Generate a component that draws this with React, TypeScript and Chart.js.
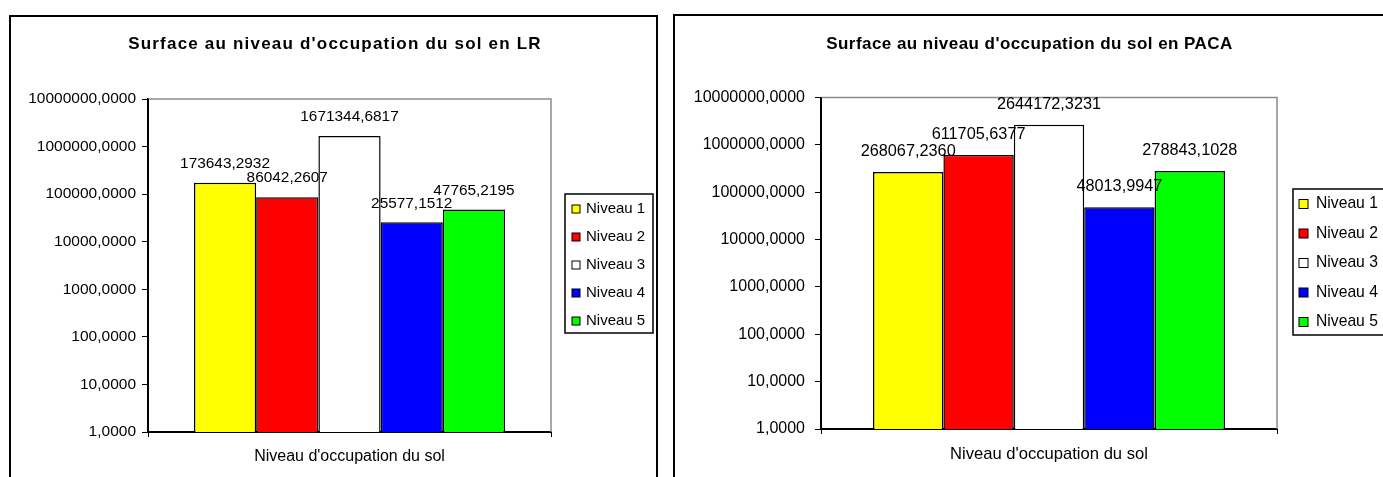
import React, { useEffect, useRef } from "react";
import { Chart, registerables } from "chart.js";

Chart.register(...registerables);

// ---------- data ----------
const CATEGORIES = ["Niveau d'occupation du sol"];
const SERIES_NAMES = ["Niveau 1", "Niveau 2", "Niveau 3", "Niveau 4", "Niveau 5"];
const SERIES_COLORS = ["#FFFF00", "#FF0000", "#FFFFFF", "#0000FF", "#00FF00"];
const LR_VALUES = [173643.2932, 86042.2607, 1671344.6817, 25577.1512, 47765.2195];
const PACA_VALUES = [268067.236, 611705.6377, 2644172.3231, 48013.9947, 278843.1028];
const Y_TICKS = [1, 10, 100, 1000, 10000, 100000, 1000000, 10000000];
const TITLE_LR = "Surface au niveau d'occupation du sol en LR";
const TITLE_PACA = "Surface au niveau d'occupation du sol en PACA";

const FONT = "'Liberation Sans', Arial, sans-serif";
const fmt = (v: number) => v.toFixed(4).replace(".", ",");

type Spec = {
  title: string;
  values: number[];
  box: { left: number; top: number; width: number; height: number };
  canvasW: number;
  canvasH: number;
  yAxisW: number;
  padTop: number;
  xAxisH: number;
  padRight: number;
  tickFont: number;
  tickPadY: number;
  catFont: number;
  tickPadX: number;
  labelFont: number;
  labelOffset: number;
  titleFont: number;
  titleSpacing: number;
  titleX: number;
  titleY: number;
  legend: { x: number; y: number; w: number; h: number; swX: number; sw: number; textX: number; y0: number; dy: number; font: number };
};

const LEFT: Spec = {
  title: TITLE_LR,
  values: LR_VALUES,
  box: { left: 9, top: 15, width: 649, height: 480 },
  canvasW: 645,
  canvasH: 460,
  yAxisW: 137,
  padTop: 82,
  xAxisH: 45,
  padRight: 105,
  tickFont: 15.5,
  tickPadY: 6,
  catFont: 16,
  tickPadX: 10,
  labelFont: 15.4,
  labelOffset: 19,
  titleFont: 17,
  titleSpacing: 1.2,
  titleX: 324,
  titleY: 27.5,
  legend: { x: 554, y: 177, w: 88, h: 139, swX: 561, sw: 8, textX: 575, y0: 192, dy: 28, font: 15 },
};

const RIGHT: Spec = {
  title: TITLE_PACA,
  values: PACA_VALUES,
  box: { left: 673, top: 14, width: 740, height: 480 },
  canvasW: 720,
  canvasH: 461,
  yAxisW: 146,
  padTop: 81.5,
  xAxisH: 48,
  padRight: 118,
  tickFont: 16,
  tickPadY: 10,
  catFont: 16.6,
  tickPadX: 10,
  labelFont: 16.3,
  labelOffset: 20.5,
  titleFont: 17,
  titleSpacing: 0.45,
  titleX: 354.5,
  titleY: 28,
  legend: { x: 618, y: 173, w: 120, h: 146, swX: 624, sw: 9, textX: 641, y0: 188, dy: 29.5, font: 15.7 },
};

function Panel({ spec }: { spec: Spec }) {
  const ref = useRef<HTMLCanvasElement | null>(null);

  useEffect(() => {
    if (!ref.current) return;
    const s = spec;

    const plotFrame = {
      id: "plotFrame",
      beforeDatasetsDraw(chart: any) {
        const { ctx, chartArea } = chart;
        ctx.save();
        ctx.strokeStyle = "#8c8c8c";
        ctx.lineWidth = 1.5;
        ctx.beginPath();
        ctx.moveTo(chartArea.left, chartArea.top);
        ctx.lineTo(chartArea.right, chartArea.top);
        ctx.lineTo(chartArea.right, chartArea.bottom);
        ctx.stroke();
        ctx.restore();
      },
    };

    const valueLabels = {
      id: "valueLabels",
      afterDatasetsDraw(chart: any) {
        const ctx = chart.ctx;
        ctx.save();
        ctx.font = `${s.labelFont}px ${FONT}`;
        ctx.fillStyle = "#000";
        ctx.textAlign = "center";
        ctx.textBaseline = "middle";
        chart.data.datasets.forEach((ds: any, i: number) => {
          const meta = chart.getDatasetMeta(i);
          meta.data.forEach((el: any, j: number) => {
            const v = ds.data[j] as number;
            ctx.fillText(fmt(v), el.x, el.y - s.labelOffset);
          });
        });
        ctx.restore();
      },
    };

    const titleAndLegend = {
      id: "titleAndLegend",
      afterDraw(chart: any) {
        const ctx = chart.ctx;
        ctx.save();
        // y axis line (black, drawn on top to be sure)
        const ca = chart.chartArea;
        ctx.strokeStyle = "#000";
        ctx.lineWidth = 2;
        ctx.beginPath();
        ctx.moveTo(ca.left, ca.top);
        ctx.lineTo(ca.left, ca.bottom);
        ctx.stroke();
        // title
        ctx.font = `bold ${s.titleFont}px ${FONT}`;
        (ctx as any).letterSpacing = `${s.titleSpacing}px`;
        ctx.fillStyle = "#000";
        ctx.textAlign = "center";
        ctx.textBaseline = "middle";
        ctx.fillText(s.title, s.titleX, s.titleY);
        (ctx as any).letterSpacing = "0px";
        // legend
        const L = s.legend;
        ctx.fillStyle = "#fff";
        ctx.fillRect(L.x, L.y, L.w, L.h);
        ctx.strokeStyle = "#000";
        ctx.lineWidth = 1.5;
        ctx.strokeRect(L.x, L.y, L.w, L.h);
        ctx.font = `${L.font}px ${FONT}`;
        ctx.textAlign = "left";
        ctx.textBaseline = "middle";
        chart.data.datasets.forEach((ds: any, i: number) => {
          const cy = L.y0 + i * L.dy;
          ctx.fillStyle = ds.backgroundColor;
          ctx.fillRect(L.swX, cy - L.sw / 2, L.sw, L.sw);
          ctx.lineWidth = 1;
          ctx.strokeStyle = "#000";
          ctx.strokeRect(L.swX, cy - L.sw / 2, L.sw, L.sw);
          ctx.fillStyle = "#000";
          ctx.fillText(ds.label, L.textX, cy);
        });
        ctx.restore();
      },
    };

    const chart = new Chart(ref.current, {
      type: "bar",
      data: {
        labels: CATEGORIES,
        datasets: SERIES_NAMES.map((name, i) => ({
          label: name,
          data: [s.values[i]],
          backgroundColor: SERIES_COLORS[i],
          borderColor: "#000",
          borderWidth: 1.5,
          categoryPercentage: 0.772,
          barPercentage: 1,
        })),
      },
      options: {
        responsive: false,
        animation: false,
        devicePixelRatio: 1,
        layout: { padding: { top: s.padTop, right: s.padRight, left: 0, bottom: 0 } },
        plugins: {
          legend: { display: false },
          title: { display: false },
          tooltip: { enabled: false },
        },
        scales: {
          x: {
            type: "category",
            offset: true,
            grid: {
              display: true,
              offset: true,
              drawOnChartArea: false,
              drawTicks: true,
              tickLength: 5,
              color: "#000",
              lineWidth: 1,
            },
            border: { display: true, color: "#000", width: 2 },
            ticks: {
              color: "#000",
              font: { size: s.catFont, family: FONT },
              padding: s.tickPadX,
              maxRotation: 0,
              autoSkip: false,
            },
            afterFit: (sc: any) => {
              sc.height = s.xAxisH;
            },
          },
          y: {
            type: "logarithmic",
            min: 1,
            max: 10000000,
            grid: {
              display: true,
              drawOnChartArea: false,
              drawTicks: true,
              tickLength: 6,
              color: "#000",
              lineWidth: 1,
            },
            border: { display: true, color: "#000", width: 2 },
            ticks: {
              color: "#000",
              font: { size: s.tickFont, family: FONT },
              padding: s.tickPadY,
              autoSkip: false,
              callback: (v: any) => fmt(Number(v)),
            },
            afterBuildTicks: (sc: any) => {
              sc.ticks = Y_TICKS.map((v) => ({ value: v }));
            },
            afterFit: (sc: any) => {
              sc.width = s.yAxisW;
            },
          },
        },
      } as any,
      plugins: [plotFrame, valueLabels, titleAndLegend],
    });

    return () => chart.destroy();
  }, [spec]);

  return (
    <div
      style={{
        position: "absolute",
        left: spec.box.left,
        top: spec.box.top,
        width: spec.box.width,
        height: spec.box.height,
        border: "2px solid #000",
        boxSizing: "border-box",
        background: "#fff",
      }}
    >
      <canvas
        ref={ref}
        width={spec.canvasW}
        height={spec.canvasH}
        style={{ position: "absolute", left: 0, top: 0, width: spec.canvasW, height: spec.canvasH, display: "block" }}
      />
    </div>
  );
}

export default function App() {
  return (
    <div
      style={{
        position: "fixed",
        left: 0,
        top: 0,
        width: 1383,
        height: 477,
        overflow: "hidden",
        background: "#fff",
      }}
    >
      <Panel spec={LEFT} />
      <Panel spec={RIGHT} />
    </div>
  );
}
